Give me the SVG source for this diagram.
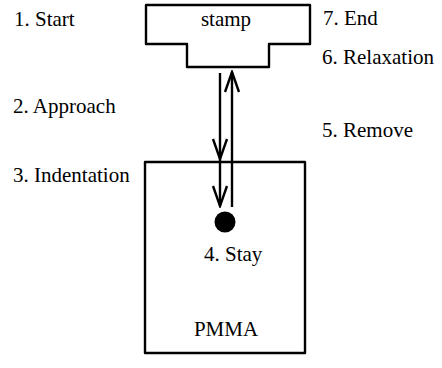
<svg xmlns="http://www.w3.org/2000/svg" width="442" height="368" viewBox="0 0 442 368">
<style>
.t{font-family:"Liberation Serif","Times New Roman",serif;font-size:21px;fill:#000}
.s{fill:none;stroke:#000;stroke-width:2.4;stroke-linejoin:round}
.c{fill:none;stroke:#000;stroke-width:2.4}
</style>
<defs>
<marker id="v" markerUnits="userSpaceOnUse" markerWidth="24" markerHeight="20" viewBox="-22 -10 24 20" refX="0" refY="0" orient="auto">
<path d="M-20,-7 L0,0 L-20,7" fill="none" stroke="#000" stroke-width="2.4"/>
</marker>
</defs>
<rect width="442" height="368" fill="#fff"/>
<g id="stamp">
<path class="s" d="M146,5 L310,5 L310,44 L269,44 L269,67 L187,67 L187,44 L146,44 Z"/>
<text class="t" x="226" y="26" text-anchor="middle">stamp</text>
</g>
<g id="pmma">
<rect class="s" x="145" y="162" width="160" height="191"/>
<circle cx="225" cy="222" r="10.5" fill="#000"/>
<text class="t" x="204" y="261">4. Stay</text>
<text class="t" x="226" y="336" text-anchor="middle">PMMA</text>
</g>
<g id="labels">
<text class="t" x="14" y="26">1. Start</text>
<text class="t" x="13" y="113">2. Approach</text>
<text class="t" x="13" y="182">3. Indentation</text>
<text class="t" x="323" y="25">7. End</text>
<text class="t" x="322" y="64">6. Relaxation</text>
<text class="t" x="322" y="137">5. Remove</text>
</g>
<g id="connectors">
<path class="c" d="M220,73 L220,159" marker-end="url(#v)"/>
<path class="c" d="M220,159 L220,206" marker-end="url(#v)"/>
<path class="c" d="M232,207 L232,72" marker-end="url(#v)"/>
</g>
</svg>
